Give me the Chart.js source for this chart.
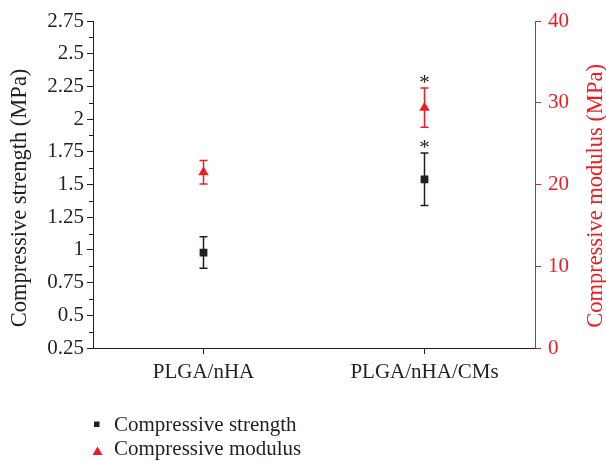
<!DOCTYPE html>
<html>
<head>
<meta charset="utf-8">
<script src="https://cdn.jsdelivr.net/npm/chart.js@4"></script>
<style>
  html, body { margin: 0; padding: 0; background: #fff; }
</style>
</head>
<body>
<canvas id="chart" width="606" height="461"></canvas>
<script>
const groups = ['PLGA/nHA', 'PLGA/nHA/CMs'];
const strength = [0.98, 1.54];
const strengthErr = [0.12, 0.2];
const modulus = [21.5, 29.4];
const modulusErr = [1.45, 2.4];
const strengthStars = ['', '*'];
const modulusStars = ['', '*'];

const seriesNames = ['Compressive strength', 'Compressive modulus'];
const leftTitle = 'Compressive strength (MPa)';
const rightTitle = 'Compressive modulus (MPa)';

const black = '#231f20';
const red = '#ed1c24';
const serif = "'Liberation Serif', 'Times New Roman', serif";

Chart.defaults.font.family = serif;
Chart.defaults.font.size = 21;
Chart.defaults.color = black;

function drawErrors(ctx, chart, values, errs, axisId, color) {
  const x = chart.scales.x, y = chart.scales[axisId];
  ctx.save();
  ctx.strokeStyle = color;
  ctx.lineWidth = 1.5;
  values.forEach((v, i) => {
    const px = x.getPixelForValue(i);
    const top = y.getPixelForValue(v + errs[i]);
    const bot = y.getPixelForValue(v - errs[i]);
    ctx.beginPath();
    ctx.moveTo(px, top); ctx.lineTo(px, bot);
    ctx.moveTo(px - 4, top); ctx.lineTo(px + 4, top);
    ctx.moveTo(px - 4, bot); ctx.lineTo(px + 4, bot);
    ctx.stroke();
  });
  ctx.restore();
}

function drawStars(ctx, chart, values, errs, stars, axisId) {
  const x = chart.scales.x, y = chart.scales[axisId];
  ctx.save();
  ctx.fillStyle = black;
  ctx.font = '21px ' + serif;
  ctx.textAlign = 'center';
  ctx.textBaseline = 'alphabetic';
  values.forEach((v, i) => {
    if (!stars[i]) return;
    ctx.fillText(stars[i], x.getPixelForValue(i), y.getPixelForValue(v + errs[i]) + 1);
  });
  ctx.restore();
}

function drawVerticalTitle(ctx, text, color, x, y) {
  ctx.save();
  ctx.fillStyle = color;
  ctx.font = '22.5px ' + serif;
  ctx.textAlign = 'center';
  ctx.textBaseline = 'alphabetic';
  ctx.translate(x, y);
  ctx.rotate(-Math.PI / 2);
  ctx.fillText(text, 0, 0);
  ctx.restore();
}

const extras = {
  id: 'extras',
  beforeDatasetsDraw(chart) {
    const ctx = chart.ctx;
    drawErrors(ctx, chart, strength, strengthErr, 'y', black);
    drawErrors(ctx, chart, modulus, modulusErr, 'y1', red);
  },
  afterDraw(chart) {
    const ctx = chart.ctx;
    const area = chart.chartArea;
    drawStars(ctx, chart, strength, strengthErr, strengthStars, 'y');
    drawStars(ctx, chart, modulus, modulusErr, modulusStars, 'y1');

    // minor ticks on the left axis
    const ys = chart.scales.y;
    ctx.save();
    ctx.strokeStyle = black;
    ctx.lineWidth = 1;
    for (let v = ys.min + 0.125; v < ys.max; v += 0.25) {
      const py = Math.round(ys.getPixelForValue(v)) + 0.5;
      ctx.beginPath();
      ctx.moveTo(area.left - 4, py);
      ctx.lineTo(area.left, py);
      ctx.stroke();
    }
    ctx.restore();

    // axis titles, both reading bottom to top
    drawVerticalTitle(ctx, leftTitle, black, 26, 198);
    drawVerticalTitle(ctx, rightTitle, red, 602, 196);

    // legend
    ctx.save();
    ctx.font = '21px ' + serif;
    ctx.textBaseline = 'alphabetic';
    ctx.fillStyle = black;
    ctx.fillRect(94, 421.5, 5.5, 5.5);
    ctx.fillText(seriesNames[0], 114, 431);
    ctx.fillStyle = red;
    ctx.beginPath();
    ctx.moveTo(97.5, 446.5);
    ctx.lineTo(102.5, 455);
    ctx.lineTo(92.5, 455);
    ctx.closePath();
    ctx.fill();
    ctx.fillStyle = black;
    ctx.fillText(seriesNames[1], 114, 455);
    ctx.restore();
  }
};

new Chart(document.getElementById('chart'), {
  type: 'line',
  data: {
    labels: groups,
    datasets: [
      {
        label: seriesNames[0],
        data: strength,
        yAxisID: 'y',
        showLine: false,
        pointStyle: 'rect',
        pointRadius: 5.5,
        pointHoverRadius: 5.5,
        backgroundColor: black,
        borderColor: black,
        borderWidth: 0,
      },
      {
        label: seriesNames[1],
        data: modulus,
        yAxisID: 'y1',
        showLine: false,
        pointStyle: 'triangle',
        pointRadius: 6,
        pointHoverRadius: 6,
        backgroundColor: red,
        borderColor: red,
        borderWidth: 0,
      },
    ],
  },
  options: {
    responsive: false,
    animation: false,
    layout: { padding: { top: 21, left: 0, right: 0, bottom: 0 } },
    plugins: {
      legend: { display: false },
      tooltip: { enabled: false },
    },
    scales: {
      x: {
        offset: true,
        grid: { offset: false, drawOnChartArea: false, tickLength: 6, color: black },
        border: { color: black, width: 1 },
        ticks: { color: black, padding: 6, maxRotation: 0 },
        afterFit: (s) => { s.height = 113; },
      },
      y: {
        position: 'left',
        min: 0.25,
        max: 2.75,
        grid: { drawOnChartArea: false, tickLength: 6, color: black },
        border: { color: black, width: 1 },
        ticks: {
          stepSize: 0.25,
          color: black,
          padding: 3,
          callback: (v) => String(+v.toFixed(2)),
        },
        afterFit: (s) => { s.width = 93; },
      },
      y1: {
        position: 'right',
        min: 0,
        max: 40,
        grid: { drawOnChartArea: false, tickLength: 6, color: red },
        border: { color: red, width: 1 },
        ticks: { stepSize: 10, color: red, padding: 7 },
        afterFit: (s) => { s.width = 71; },
      },
    },
  },
  plugins: [extras],
});
</script>
</body>
</html>
